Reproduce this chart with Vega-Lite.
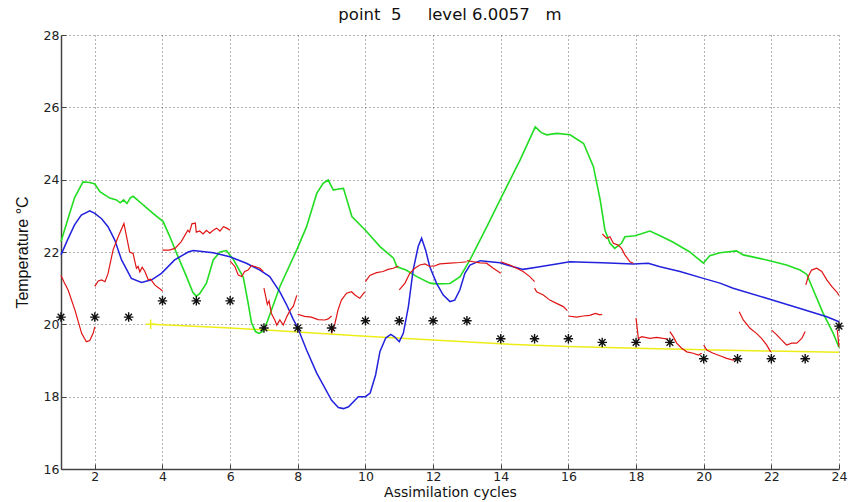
{
  "$schema": "https://vega.github.io/schema/vega-lite/v6.json",
  "width": 778,
  "height": 434,
  "autosize": {"type": "none"},
  "padding": {"left": 61, "top": 35, "right": 12, "bottom": 33},
  "background": "white",
  "config": {
    "view": {"stroke": null},
    "font": "DejaVu Sans",
    "axis": {
      "grid": true,
      "gridDash": [1, 3],
      "gridColor": "#555",
      "gridOpacity": 0.9,
      "gridWidth": 1,
      "domainColor": "#444",
      "domainWidth": 1.5,
      "tickColor": "#444",
      "tickSize": -5,
      "labelFontSize": 12.5,
      "labelColor": "#222",
      "labelFont": "DejaVu Sans",
      "titleFont": "DejaVu Sans",
      "titleFontWeight": "normal",
      "titleColor": "#111"
    }
  },
  "title": {
    "text": "point\u00a0\u00a05\u00a0\u00a0\u00a0\u00a0\u00a0level 6.0057\u00a0\u00a0\u00a0m",
    "fontSize": 16.5,
    "fontWeight": "normal",
    "font": "DejaVu Sans",
    "anchor": "middle",
    "offset": 6,
    "color": "#111"
  },
  "datasets": {
    "red": [
      {"g":"A","x":1.0,"y":21.35},{"g":"A","x":1.1,"y":21.15},{"g":"A","x":1.21,"y":20.95},{"g":"A","x":1.41,"y":20.4},{"g":"A","x":1.61,"y":19.75},{"g":"A","x":1.75,"y":19.52},{"g":"A","x":1.85,"y":19.55},{"g":"A","x":1.95,"y":19.75},{"g":"A","x":2.0,"y":19.93},
      {"g":"B","x":2.0,"y":21.05},{"g":"B","x":2.1,"y":21.2},{"g":"B","x":2.2,"y":21.23},{"g":"B","x":2.3,"y":21.18},{"g":"B","x":2.39,"y":21.4},{"g":"B","x":2.54,"y":22.06},{"g":"B","x":2.69,"y":22.42},{"g":"B","x":2.86,"y":22.79},{"g":"B","x":2.94,"y":22.42},{"g":"B","x":3.03,"y":22.0},{"g":"B","x":3.13,"y":21.96},{"g":"B","x":3.23,"y":21.55},{"g":"B","x":3.28,"y":21.6},{"g":"B","x":3.33,"y":21.45},{"g":"B","x":3.4,"y":21.58},{"g":"B","x":3.48,"y":21.46},{"g":"B","x":3.58,"y":21.23},{"g":"B","x":3.65,"y":21.25},{"g":"B","x":3.77,"y":21.09},{"g":"B","x":3.9,"y":21.0},{"g":"B","x":4.0,"y":20.92},
      {"g":"C","x":4.0,"y":22.05},{"g":"C","x":4.2,"y":22.05},{"g":"C","x":4.37,"y":22.1},{"g":"C","x":4.55,"y":22.28},{"g":"C","x":4.75,"y":22.6},{"g":"C","x":4.8,"y":22.55},{"g":"C","x":4.87,"y":22.78},{"g":"C","x":4.97,"y":22.8},{"g":"C","x":5.0,"y":22.55},{"g":"C","x":5.1,"y":22.58},{"g":"C","x":5.2,"y":22.5},{"g":"C","x":5.3,"y":22.6},{"g":"C","x":5.4,"y":22.52},{"g":"C","x":5.5,"y":22.6},{"g":"C","x":5.6,"y":22.66},{"g":"C","x":5.7,"y":22.58},{"g":"C","x":5.8,"y":22.7},{"g":"C","x":5.9,"y":22.66},{"g":"C","x":6.0,"y":22.6},
      {"g":"D","x":6.0,"y":21.75},{"g":"D","x":6.14,"y":21.6},{"g":"D","x":6.24,"y":21.36},{"g":"D","x":6.34,"y":21.32},{"g":"D","x":6.43,"y":21.46},{"g":"D","x":6.53,"y":21.5},{"g":"D","x":6.63,"y":21.62},{"g":"D","x":6.73,"y":21.6},{"g":"D","x":6.88,"y":21.55},{"g":"D","x":6.98,"y":21.46},
      {"g":"E","x":7.0,"y":21.0},{"g":"E","x":7.1,"y":20.55},{"g":"E","x":7.15,"y":20.65},{"g":"E","x":7.22,"y":20.3},{"g":"E","x":7.32,"y":20.12},{"g":"E","x":7.38,"y":19.98},{"g":"E","x":7.47,"y":20.12},{"g":"E","x":7.57,"y":19.98},{"g":"E","x":7.67,"y":20.2},{"g":"E","x":7.78,"y":20.4},{"g":"E","x":7.87,"y":20.5},{"g":"E","x":7.97,"y":20.8},
      {"g":"F","x":8.0,"y":20.28},{"g":"F","x":8.2,"y":20.22},{"g":"F","x":8.4,"y":20.2},{"g":"F","x":8.6,"y":20.13},{"g":"F","x":8.8,"y":20.12},{"g":"F","x":8.9,"y":20.15},{"g":"F","x":9.0,"y":20.23},
      {"g":"G","x":9.0,"y":19.75},{"g":"G","x":9.1,"y":20.03},{"g":"G","x":9.19,"y":20.4},{"g":"G","x":9.29,"y":20.67},{"g":"G","x":9.44,"y":20.86},{"g":"G","x":9.59,"y":20.9},{"g":"G","x":9.69,"y":20.81},{"g":"G","x":9.83,"y":20.72},{"g":"G","x":9.98,"y":20.9},
      {"g":"H","x":10.0,"y":21.18},{"g":"H","x":10.13,"y":21.35},{"g":"H","x":10.33,"y":21.43},{"g":"H","x":10.52,"y":21.46},{"g":"H","x":10.67,"y":21.52},{"g":"H","x":10.82,"y":21.55},{"g":"H","x":10.97,"y":21.61},
      {"g":"I","x":11.0,"y":20.95},{"g":"I","x":11.17,"y":21.14},{"g":"I","x":11.31,"y":21.41},{"g":"I","x":11.46,"y":21.55},{"g":"I","x":11.61,"y":21.64},{"g":"I","x":11.76,"y":21.67},{"g":"I","x":11.9,"y":21.6},{"g":"I","x":12.0,"y":21.62},
      {"g":"J","x":12.0,"y":21.6},{"g":"J","x":12.2,"y":21.67},{"g":"J","x":12.5,"y":21.69},{"g":"J","x":12.79,"y":21.71},{"g":"J","x":12.99,"y":21.73},
      {"g":"K","x":13.0,"y":21.76},{"g":"K","x":13.19,"y":21.73},{"g":"K","x":13.39,"y":21.7},{"g":"K","x":13.58,"y":21.69},{"g":"K","x":13.78,"y":21.55},{"g":"K","x":14.0,"y":21.41},
      {"g":"L","x":14.0,"y":21.73},{"g":"L","x":14.27,"y":21.64},{"g":"L","x":14.47,"y":21.55},{"g":"L","x":14.66,"y":21.46},{"g":"L","x":14.86,"y":21.32},{"g":"L","x":15.0,"y":21.18},
      {"g":"M","x":15.0,"y":21.0},{"g":"M","x":15.06,"y":20.9},{"g":"M","x":15.26,"y":20.81},{"g":"M","x":15.45,"y":20.67},{"g":"M","x":15.65,"y":20.58},{"g":"M","x":15.85,"y":20.49},{"g":"M","x":15.97,"y":20.38},
      {"g":"N","x":16.0,"y":20.23},{"g":"N","x":16.24,"y":20.2},{"g":"N","x":16.44,"y":20.23},{"g":"N","x":16.63,"y":20.25},{"g":"N","x":16.8,"y":20.3},{"g":"N","x":16.93,"y":20.26},{"g":"N","x":17.0,"y":20.28},
      {"g":"O","x":17.0,"y":22.5},{"g":"O","x":17.13,"y":22.38},{"g":"O","x":17.23,"y":22.42},{"g":"O","x":17.33,"y":22.24},{"g":"O","x":17.47,"y":22.19},{"g":"O","x":17.57,"y":22.1},{"g":"O","x":17.67,"y":21.92},{"g":"O","x":17.82,"y":21.73},{"g":"O","x":17.92,"y":21.69},
      {"g":"P","x":18.0,"y":20.17},{"g":"P","x":18.04,"y":19.84},{"g":"P","x":18.07,"y":19.61},{"g":"P","x":18.17,"y":19.66},{"g":"P","x":18.41,"y":19.61},{"g":"P","x":18.61,"y":19.64},{"g":"P","x":18.8,"y":19.61},{"g":"P","x":18.95,"y":19.59},
      {"g":"Q","x":19.0,"y":19.8},{"g":"Q","x":19.1,"y":19.66},{"g":"Q","x":19.2,"y":19.48},{"g":"Q","x":19.35,"y":19.34},{"g":"Q","x":19.5,"y":19.24},{"g":"Q","x":19.69,"y":19.2},{"g":"Q","x":19.84,"y":19.15},{"g":"Q","x":19.94,"y":19.2},
      {"g":"R","x":20.0,"y":19.43},{"g":"R","x":20.09,"y":19.29},{"g":"R","x":20.28,"y":19.2},{"g":"R","x":20.48,"y":19.13},{"g":"R","x":20.68,"y":19.06},{"g":"R","x":20.87,"y":19.01},{"g":"R","x":20.95,"y":19.03},
      {"g":"S","x":21.05,"y":20.35},{"g":"S","x":21.17,"y":20.12},{"g":"S","x":21.37,"y":19.89},{"g":"S","x":21.56,"y":19.75},{"g":"S","x":21.71,"y":19.61},{"g":"S","x":21.86,"y":19.43},{"g":"S","x":21.98,"y":19.24},
      {"g":"T","x":22.01,"y":19.84},{"g":"T","x":22.16,"y":19.71},{"g":"T","x":22.3,"y":19.57},{"g":"T","x":22.45,"y":19.43},{"g":"T","x":22.6,"y":19.48},{"g":"T","x":22.75,"y":19.48},{"g":"T","x":22.9,"y":19.61},{"g":"T","x":23.0,"y":19.8},
      {"g":"U","x":23.02,"y":21.09},{"g":"U","x":23.09,"y":21.32},{"g":"U","x":23.19,"y":21.5},{"g":"U","x":23.34,"y":21.55},{"g":"U","x":23.49,"y":21.46},{"g":"U","x":23.64,"y":21.23},{"g":"U","x":23.79,"y":21.04},{"g":"U","x":23.93,"y":20.9},{"g":"U","x":24.0,"y":20.8},
      {"g":"V","x":23.95,"y":19.85},{"g":"V","x":24.0,"y":19.38}
    ],
    "green": [
      {"x":1.0,"y":22.29},{"x":1.2,"y":22.9},{"x":1.4,"y":23.5},{"x":1.65,"y":23.94},{"x":1.85,"y":23.92},{"x":2.0,"y":23.88},{"x":2.15,"y":23.67},{"x":2.44,"y":23.49},{"x":2.64,"y":23.44},{"x":2.75,"y":23.36},{"x":2.85,"y":23.44},{"x":2.95,"y":23.34},{"x":3.05,"y":23.5},{"x":3.13,"y":23.54},{"x":3.25,"y":23.45},{"x":3.43,"y":23.3},{"x":3.72,"y":23.07},{"x":4.02,"y":22.84},{"x":4.22,"y":22.42},{"x":4.42,"y":21.96},{"x":4.71,"y":21.32},{"x":4.9,"y":20.88},{"x":5.0,"y":20.78},{"x":5.1,"y":20.85},{"x":5.3,"y":21.14},{"x":5.5,"y":21.78},{"x":5.7,"y":22.0},{"x":5.89,"y":22.04},{"x":6.09,"y":21.8},{"x":6.39,"y":21.3},{"x":6.53,"y":20.6},{"x":6.63,"y":20.05},{"x":6.75,"y":19.8},{"x":6.85,"y":19.75},{"x":6.95,"y":19.8},{"x":7.08,"y":20.03},{"x":7.47,"y":21.04},{"x":7.97,"y":22.06},{"x":8.26,"y":22.7},{"x":8.56,"y":23.62},{"x":8.75,"y":23.9},{"x":8.9,"y":23.99},{"x":9.05,"y":23.71},{"x":9.2,"y":23.74},{"x":9.35,"y":23.76},{"x":9.6,"y":22.98},{"x":10.0,"y":22.6},{"x":10.43,"y":22.15},{"x":10.83,"y":21.83},{"x":10.93,"y":21.59},{"x":11.2,"y":21.5},{"x":11.52,"y":21.32},{"x":11.91,"y":21.14},{"x":12.11,"y":21.12},{"x":12.5,"y":21.13},{"x":12.8,"y":21.32},{"x":13.09,"y":21.78},{"x":13.24,"y":22.06},{"x":13.59,"y":22.7},{"x":13.98,"y":23.44},{"x":14.57,"y":24.54},{"x":15.02,"y":25.46},{"x":15.2,"y":25.3},{"x":15.36,"y":25.24},{"x":15.66,"y":25.28},{"x":16.05,"y":25.24},{"x":16.45,"y":25.0},{"x":16.74,"y":24.36},{"x":16.94,"y":23.44},{"x":17.08,"y":22.61},{"x":17.23,"y":22.24},{"x":17.37,"y":22.1},{"x":17.57,"y":22.24},{"x":17.67,"y":22.42},{"x":17.97,"y":22.45},{"x":18.41,"y":22.58},{"x":18.71,"y":22.45},{"x":19.1,"y":22.27},{"x":19.59,"y":22.0},{"x":19.99,"y":21.69},{"x":20.18,"y":21.9},{"x":20.48,"y":21.98},{"x":20.97,"y":22.03},{"x":21.17,"y":21.92},{"x":21.86,"y":21.78},{"x":22.45,"y":21.64},{"x":22.85,"y":21.5},{"x":23.05,"y":21.38},{"x":23.24,"y":20.95},{"x":23.53,"y":20.31},{"x":23.83,"y":19.75},{"x":24.0,"y":19.36}
    ],
    "blue": [
      {"x":1.0,"y":21.92},{"x":1.2,"y":22.35},{"x":1.4,"y":22.75},{"x":1.6,"y":23.02},{"x":1.85,"y":23.14},{"x":2.0,"y":23.07},{"x":2.2,"y":22.92},{"x":2.39,"y":22.7},{"x":2.59,"y":22.33},{"x":2.79,"y":21.78},{"x":3.08,"y":21.27},{"x":3.38,"y":21.16},{"x":3.68,"y":21.23},{"x":3.97,"y":21.41},{"x":4.36,"y":21.78},{"x":4.76,"y":22.0},{"x":4.91,"y":22.04},{"x":5.5,"y":21.98},{"x":5.99,"y":21.87},{"x":6.48,"y":21.69},{"x":6.88,"y":21.5},{"x":7.17,"y":21.32},{"x":7.47,"y":20.9},{"x":7.67,"y":20.54},{"x":7.86,"y":20.15},{"x":8.0,"y":19.9},{"x":8.26,"y":19.29},{"x":8.56,"y":18.65},{"x":9.0,"y":17.9},{"x":9.2,"y":17.7},{"x":9.35,"y":17.67},{"x":9.5,"y":17.72},{"x":9.79,"y":18.0},{"x":10.0,"y":18.0},{"x":10.14,"y":18.1},{"x":10.3,"y":18.6},{"x":10.43,"y":19.25},{"x":10.6,"y":19.62},{"x":10.75,"y":19.72},{"x":10.87,"y":19.65},{"x":11.0,"y":19.52},{"x":11.12,"y":19.75},{"x":11.27,"y":20.49},{"x":11.41,"y":21.5},{"x":11.56,"y":22.15},{"x":11.66,"y":22.38},{"x":11.78,"y":22.05},{"x":11.9,"y":21.6},{"x":12.1,"y":21.14},{"x":12.3,"y":20.81},{"x":12.5,"y":20.63},{"x":12.64,"y":20.67},{"x":12.79,"y":20.95},{"x":12.94,"y":21.41},{"x":13.09,"y":21.64},{"x":13.39,"y":21.76},{"x":13.98,"y":21.7},{"x":14.37,"y":21.59},{"x":14.66,"y":21.52},{"x":15.06,"y":21.58},{"x":15.65,"y":21.67},{"x":16.04,"y":21.73},{"x":16.5,"y":21.72},{"x":17.0,"y":21.7},{"x":17.92,"y":21.67},{"x":18.36,"y":21.69},{"x":18.71,"y":21.59},{"x":19.3,"y":21.46},{"x":19.99,"y":21.27},{"x":20.48,"y":21.14},{"x":20.87,"y":21.0},{"x":21.86,"y":20.72},{"x":22.85,"y":20.44},{"x":23.64,"y":20.21},{"x":24.0,"y":20.07}
    ],
    "yellow": [
      {"x":3.65,"y":20.0},{"x":4.5,"y":19.97},{"x":6.0,"y":19.9},{"x":8.0,"y":19.79},{"x":10.0,"y":19.67},{"x":12.0,"y":19.57},{"x":14.0,"y":19.46},{"x":16.0,"y":19.39},{"x":18.0,"y":19.34},{"x":20.0,"y":19.3},{"x":22.0,"y":19.26},{"x":24.0,"y":19.23}
    ],
    "obs": [
      {"x":1,"y":20.2},{"x":2,"y":20.2},{"x":3,"y":20.2},{"x":4,"y":20.65},{"x":5,"y":20.65},{"x":6,"y":20.65},{"x":7,"y":19.9},{"x":8,"y":19.9},{"x":9,"y":19.9},{"x":10,"y":20.1},{"x":11,"y":20.1},{"x":12,"y":20.1},{"x":13,"y":20.1},{"x":14,"y":19.6},{"x":15,"y":19.6},{"x":16,"y":19.6},{"x":17,"y":19.5},{"x":18,"y":19.5},{"x":19,"y":19.5},{"x":20,"y":19.05},{"x":21,"y":19.05},{"x":22,"y":19.05},{"x":23,"y":19.05},{"x":24,"y":19.95}
    ],
    "start": [{"x":3.65,"y":20.0}]
  },
  "encoding": {
    "x": {
      "field": "x", "type": "quantitative",
      "scale": {"domain": [1, 24], "nice": false, "zero": false},
      "axis": {"values": [2,4,6,8,10,12,14,16,18,20,22,24], "title": "Assimilation cycles", "titleFontSize": 14, "labelPadding": 6, "titlePadding": 3, "labelFlush": false}
    },
    "y": {
      "field": "y", "type": "quantitative",
      "scale": {"domain": [16, 28], "nice": false, "zero": false},
      "axis": {"values": [16,18,20,22,24,26,28], "title": "Temperature °C", "titleFont": "Liberation Sans", "titleFontSize": 16, "labelPadding": 7, "titlePadding": 13}
    }
  },
  "layer": [
    {"data": {"name": "yellow"}, "mark": {"type": "line", "color": "#eded18", "strokeWidth": 1.5}},
    {"data": {"name": "green"}, "mark": {"type": "line", "color": "#22dd22", "strokeWidth": 1.6}},
    {"data": {"name": "blue"}, "mark": {"type": "line", "color": "#2222dd", "strokeWidth": 1.5}},
    {"data": {"name": "red"}, "mark": {"type": "line", "color": "#e01414", "strokeWidth": 1.2}, "encoding": {"detail": {"field": "g", "type": "nominal"}}},
    {"data": {"name": "start"}, "mark": {"type": "point", "shape": "M-1,0L1,0M0,-1L0,1", "filled": false, "stroke": "#eded18", "strokeWidth": 1.5, "size": 90, "opacity": 1}},
    {"data": {"name": "obs"}, "mark": {"type": "point", "shape": "M-1,0L1,0M0,-1L0,1M-0.7,-0.7L0.7,0.7M-0.7,0.7L0.7,-0.7", "filled": false, "stroke": "#111", "strokeWidth": 1.4, "size": 90, "opacity": 1}}
  ]
}
